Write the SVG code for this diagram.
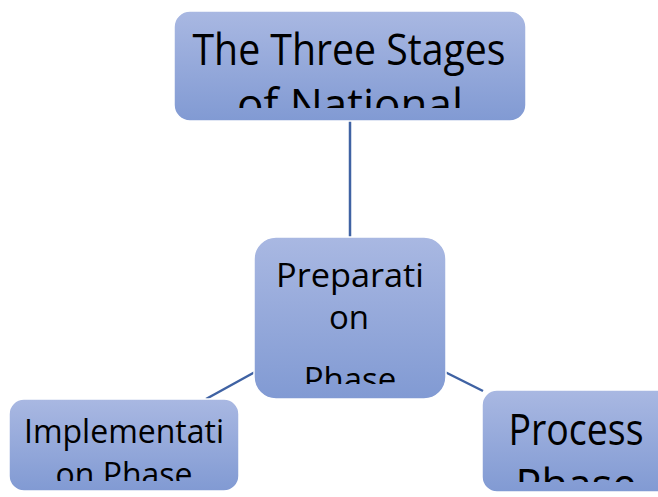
<svg xmlns="http://www.w3.org/2000/svg" width="658" height="497" viewBox="0 0 658 497">
<defs>
<linearGradient id="g" x1="0" y1="0" x2="0" y2="1">
<stop offset="0" stop-color="#a9b8e2"/>
<stop offset="1" stop-color="#819ad3"/>
</linearGradient>
<clipPath id="c1"><rect x="174" y="11" width="352" height="97"/></clipPath>
<clipPath id="c2"><rect x="254" y="237" width="192" height="147"/></clipPath>
<clipPath id="c3"><rect x="9" y="399" width="230" height="82"/></clipPath>
<clipPath id="c4"><rect x="482" y="390" width="176" height="92"/></clipPath>
</defs>
<style>
.box{fill:url(#g);stroke:#ffffff;stroke-width:1.5}
.t{font-family:"Open Sans","Noto Sans","DejaVu Sans",sans-serif;fill:#000;text-anchor:middle}
.con{stroke:#3f62a3;stroke-width:2.5;fill:none}
</style>
<g id="connectors">
<line class="con" x1="350" y1="121" x2="350" y2="237"/>
<line class="con" x1="255" y1="372" x2="206" y2="399"/>
<line class="con" x1="445" y1="372" x2="483" y2="391"/>
</g>
<g id="node-title">
<rect class="box" x="174" y="11" width="352" height="110" rx="16"/>
<g clip-path="url(#c1)">
<text class="t" x="349" y="65" font-size="44" textLength="313" lengthAdjust="spacingAndGlyphs">The Three Stages</text>
<text class="t" x="350" y="120" font-size="44">of National</text>
</g>
</g>
<g id="node-preparation">
<rect class="box" x="254" y="237" width="192" height="162" rx="22"/>
<g clip-path="url(#c2)">
<text class="t" x="350" y="287" font-size="33" textLength="148" lengthAdjust="spacingAndGlyphs">Preparati</text>
<text class="t" x="349" y="329" font-size="33">on</text>
<text class="t" x="350" y="391" font-size="33">Phase</text>
</g>
</g>
<g id="node-implementation">
<rect class="box" x="9" y="399" width="230" height="92" rx="15"/>
<g clip-path="url(#c3)">
<text class="t" x="124" y="443" font-size="32" textLength="200" lengthAdjust="spacingAndGlyphs">Implementati</text>
<text class="t" x="124" y="486" font-size="32">on Phase</text>
</g>
</g>
<g id="node-process">
<rect class="box" x="482" y="390" width="190" height="102" rx="15"/>
<g clip-path="url(#c4)">
<text class="t" x="576" y="445" font-size="43" textLength="135" lengthAdjust="spacingAndGlyphs">Process</text>
<text class="t" x="576" y="500" font-size="43">Phase</text>
</g>
</g>
</svg>
